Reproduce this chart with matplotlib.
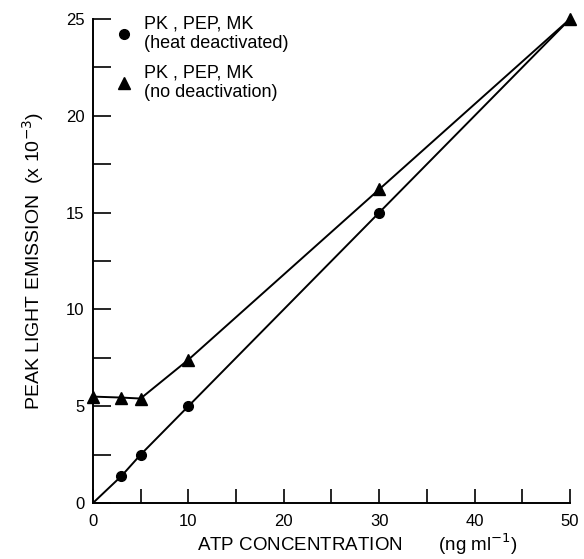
import matplotlib
matplotlib.use('Agg')
import matplotlib.pyplot as plt
from matplotlib.ticker import MultipleLocator

plt.rcParams['font.family'] = ['Liberation Sans', 'DejaVu Sans']

# heat deactivated
atp_heat = [0, 3, 5, 10, 30, 50]
peak_heat = [0, 1.4, 2.5, 5.0, 15.0, 25.0]
# no deactivation
atp_nodeact = [0, 3, 5, 10, 30, 50]
peak_nodeact = [5.5, 5.45, 5.4, 7.4, 16.2, 25.0]

lbl_heat = 'PK , PEP, MK\n(heat deactivated)'
lbl_nodeact = 'PK , PEP, MK\n(no deactivation)'

fig = plt.figure(figsize=(5.84, 5.59), dpi=100)
ax = fig.add_axes([0.159, 0.100, 0.817, 0.866])

# lines
ax.plot(atp_heat, peak_heat, '-', color='black', lw=1.4)
ax.plot(atp_nodeact, peak_nodeact, '-', color='black', lw=1.4)
# markers (circle at 50 is hidden under the triangle)
ax.plot(atp_heat[1:-1], peak_heat[1:-1], 'o', color='black', ms=7, label=lbl_heat)
ax.plot(atp_nodeact, peak_nodeact, '^', color='black', ms=9, label=lbl_nodeact,
        clip_on=False)

ax.set_xlim(0, 50)
ax.set_ylim(0, 25)
ax.spines['top'].set_visible(False)
ax.spines['right'].set_visible(False)
ax.spines['left'].set_linewidth(1.4)
ax.spines['bottom'].set_linewidth(1.4)

ax.xaxis.set_major_locator(MultipleLocator(10))
ax.xaxis.set_minor_locator(MultipleLocator(5))
ax.yaxis.set_major_locator(MultipleLocator(5))
ax.yaxis.set_minor_locator(MultipleLocator(2.5))
ax.tick_params(which='both', direction='in', width=1.2, labelsize=12)
ax.tick_params(axis='x', which='both', length=10, pad=8)
ax.tick_params(axis='y', which='both', length=13, pad=6)

ax.set_xlabel('ATP CONCENTRATION       (ng ml$^{-1}$)', fontsize=13.5)
ax.xaxis.set_label_coords(0.555, -0.058)
ax.set_ylabel('PEAK LIGHT EMISSION  (x 10$^{-3}$)', fontsize=14, labelpad=14)

leg = ax.legend(loc='upper left', bbox_to_anchor=(0.02, 1.03), frameon=False,
                fontsize=13, handletextpad=0.5, labelspacing=0.7,
                handlelength=1.2, borderaxespad=0.2)

fig.savefig('out.png', dpi=100)
